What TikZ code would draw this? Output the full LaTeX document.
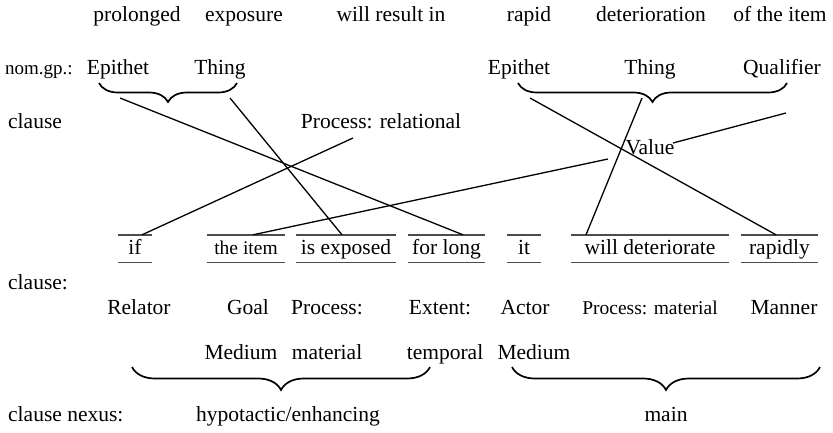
\documentclass[tikz,border=0pt]{standalone}
\usepackage{fontspec}
\setmainfont{Liberation Serif}
\usetikzlibrary{decorations.pathreplacing}
\begin{document}
\begin{tikzpicture}[x=1pt,y=-1pt,
  txt/.style={inner sep=0pt, anchor=base, font=\fontsize{21.5}{25}\selectfont},
  smalltxt/.style={txt, font=\fontsize{19.5}{23}\selectfont},
  lefttxt/.style={txt, anchor=base west},
  unit/.style={inner xsep=0pt, inner ysep=3.5pt, text height=16pt, text depth=4pt, font=\fontsize{21.5}{25}\selectfont},
  rule/.style={line width=1.4pt, black!70},
  link/.style={line width=1.3pt},
  topbrace/.style={line width=1.7pt, decorate, decoration={brace, mirror, amplitude=19pt}},
  lowbrace/.style={line width=1.7pt, decorate, decoration={brace, mirror, amplitude=23pt}}]

\fill[white] (0,0) rectangle (833,432);
\useasboundingbox (0,0) rectangle (833,432);

% the wording
\node[txt] (w1) at (137,21) {prolonged};
\node[txt] (w2) at (244,21) {exposure};
\node[txt] (w3) at (391,21) {will result in};
\node[txt] (w4) at (529,21) {rapid};
\node[txt] (w5) at (651,21) {deterioration};
\node[txt] (w6) at (780,21) {of the item};

% nominal groups
\node[lefttxt, font=\fontsize{19}{23}\selectfont] (lnom) at (5,74) {nom.gp.:};
\node[txt] (ep1) at (118,74) {Epithet};
\node[txt] (th1) at (220,74) {Thing};
\node[txt] (ep2) at (519,74) {Epithet};
\node[txt] (th2) at (650,74) {Thing};
\node[txt] (qu2) at (782,74) {Qualifier};

\coordinate (b1l) at (99,83);  \coordinate (b1r) at (237,83);
\coordinate (b2l) at (518,83); \coordinate (b2r) at (787,83);
\draw[topbrace] (b1l) -- (b1r);
\draw[topbrace] (b2l) -- (b2r);

% relational clause
\node[lefttxt] (lcl1) at (8,128) {clause};
\node[txt] (proc) at (381,128) {Process: relational};
\node[txt] (val) at (650,154) {Value};

% the two clauses of the nexus
\node[unit, minimum width=34pt] (u1) at (135,248.5) {if};
\node[unit, minimum width=78pt, font=\fontsize{19.5}{23}\selectfont] (u2) at (246,248.5) {the item};
\node[unit, minimum width=100pt] (u3) at (346,248.5) {is exposed};
\node[unit, minimum width=77pt] (u4) at (446.5,248.5) {for long};
\node[unit, minimum width=34pt] (u5) at (524,248.5) {it};
\node[unit, minimum width=158pt] (u6) at (650,248.5) {will deteriorate};
\node[unit, minimum width=77pt] (u7) at (779.5,248.5) {rapidly};
\foreach \u in {u1,u2,u3,u4,u5,u6,u7}{
  \draw[rule] (\u.north west) -- (\u.north east);
  \draw[rule] (\u.south west) -- (\u.south east);
}

% connectors
\coordinate (s1) at (120,98);
\coordinate (s2) at (230,98);
\coordinate (s3) at (353,138);
\coordinate (s4) at (530,98);
\coordinate (s5) at (642,98);
\coordinate (s6) at (786,113);
\coordinate (v6) at (673,143);
\coordinate (v7) at (608,159);
\draw[link] (s1) -- ([xshift=16.5pt]u4.north);
\draw[link] (s2) -- ([xshift=-4pt]u3.north);
\draw[link] (s3) -- ([xshift=7pt]u1.north);
\draw[link] (s4) -- ([xshift=-3.5pt]u7.north);
\draw[link] (s5) -- ([xshift=-64pt]u6.north);
\draw[link] (s6) -- (v6);
\draw[link] (v7) -- ([xshift=7pt]u2.north);

% clause functions
\node[lefttxt] (lcl2) at (8,289) {clause:};
\node[txt] (f1) at (139,314) {Relator};
\node[txt] (f2) at (248,314) {Goal};
\node[txt] (f3) at (327,314) {Process:};
\node[txt] (f4) at (440,314) {Extent:};
\node[txt] (f5) at (525,314) {Actor};
\node[smalltxt] (f6) at (650,314) {Process: material};
\node[txt] (f7) at (784,314) {Manner};
\node[txt] (g2) at (241,359) {Medium};
\node[txt] (g3) at (327,359) {material};
\node[txt] (g4) at (445,359) {temporal};
\node[txt] (g5) at (534,359) {Medium};

\coordinate (b3l) at (132,367); \coordinate (b3r) at (430,367);
\coordinate (b4l) at (512,367); \coordinate (b4r) at (820,367);
\draw[lowbrace] (b3l) -- (b3r);
\draw[lowbrace] (b4l) -- (b4r);

% clause nexus
\node[lefttxt] (lnx) at (8,421) {clause nexus:};
\node[txt] (n1) at (288,421) {hypotactic/enhancing};
\node[txt] (n2) at (666,421) {main};
\end{tikzpicture}
\end{document}
